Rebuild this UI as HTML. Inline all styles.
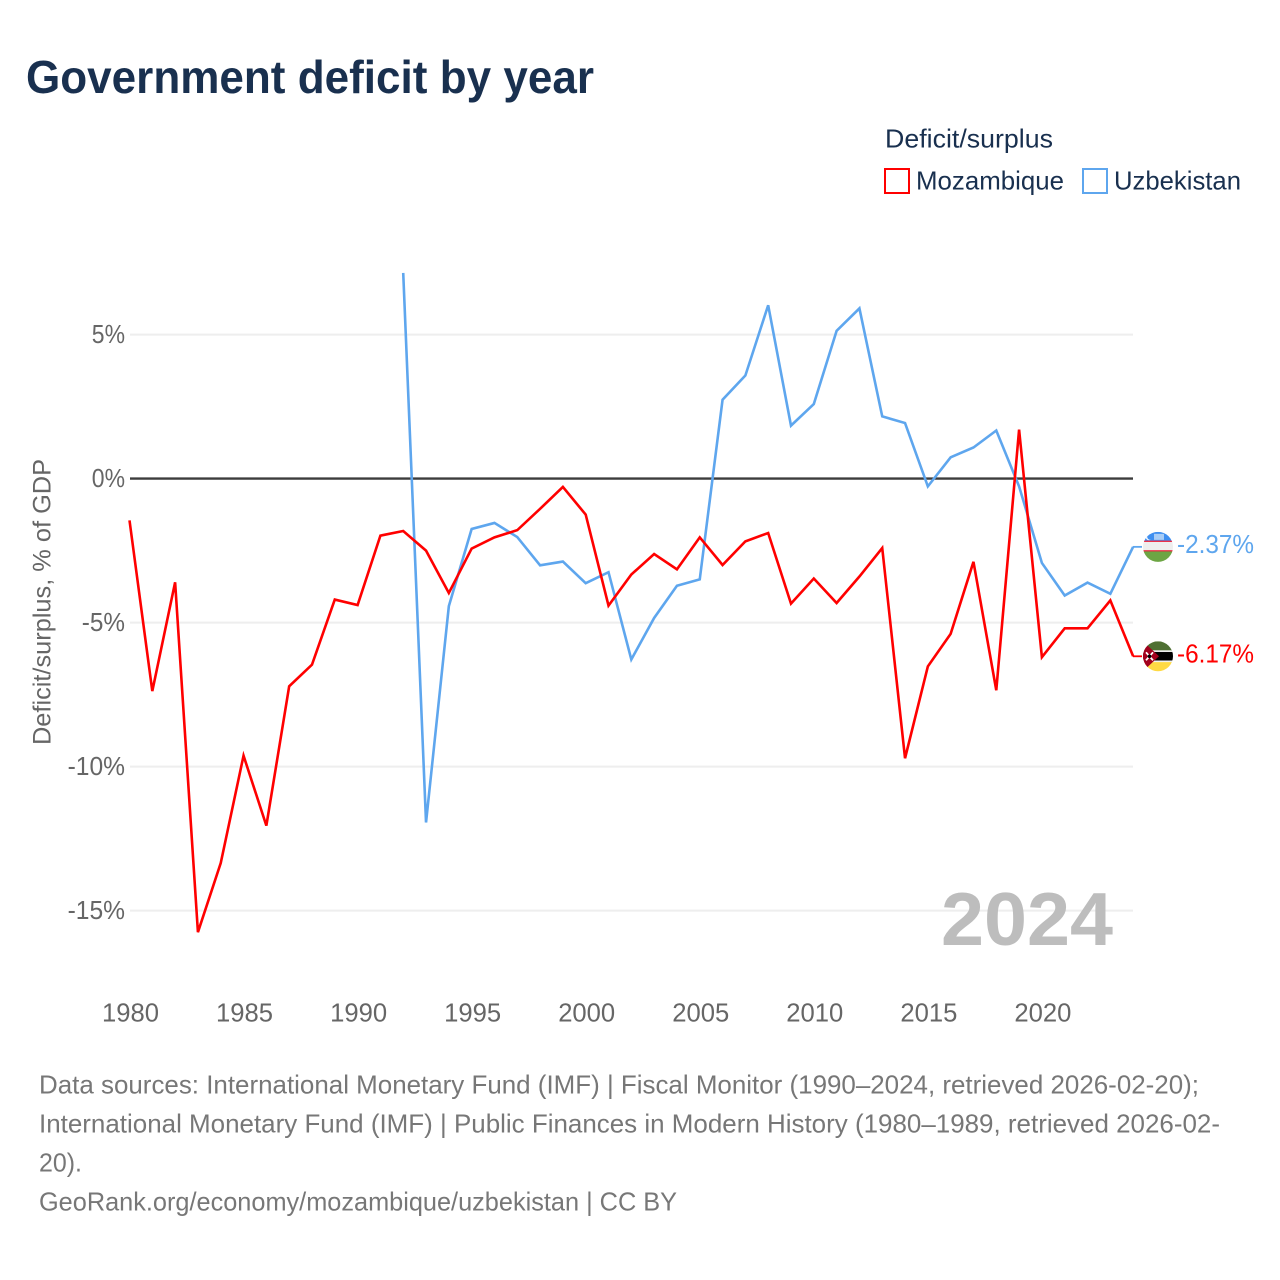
<!DOCTYPE html>
<html lang="en">
<head>
<meta charset="utf-8">
<title>Government deficit by year</title>
<style>
html,body{margin:0;padding:0;background:#fff;}
svg{display:block;font-family:"Liberation Sans",sans-serif;}
</style>
</head>
<body>
<svg id="chart" xmlns="http://www.w3.org/2000/svg" width="1280" height="1280" viewBox="0 0 1280 1280">
  <defs>
    <clipPath id="flag-clip"><circle cx="0" cy="0" r="15"/></clipPath>
  </defs>
  <rect x="0" y="0" width="1280" height="1280" fill="#fff"/>
  <text x="26" y="93" font-size="46" font-weight="700" fill="#19304f" textLength="568" lengthAdjust="spacingAndGlyphs">Government deficit by year</text>

  <g>
    <text x="885" y="147.5" font-size="26" fill="#19304f" textLength="168" lengthAdjust="spacingAndGlyphs">Deficit/surplus</text>
    <rect x="885" y="169" width="24" height="24" fill="#fff" stroke="#ff0000" stroke-width="2"/>
    <text x="916" y="189.5" font-size="26" fill="#19304f" textLength="148" lengthAdjust="spacingAndGlyphs">Mozambique</text>
    <rect x="1083" y="169" width="24" height="24" fill="#fff" stroke="#5ea6ee" stroke-width="2"/>
    <text x="1114" y="189.5" font-size="26" fill="#19304f" textLength="127" lengthAdjust="spacingAndGlyphs">Uzbekistan</text>
  </g>

  <text transform="translate(50.5,602) rotate(-90)" text-anchor="middle" font-size="25" fill="#666" textLength="286" lengthAdjust="spacingAndGlyphs">Deficit/surplus, % of GDP</text>

  <g id="grid"></g>
  <g id="y-ticks"></g>
  <g id="x-ticks"></g>

  <text x="941" y="945" font-size="75" font-weight="700" fill="#bdbdbd" textLength="172" lengthAdjust="spacingAndGlyphs">2024</text>

  <g id="series"></g>
  <g id="end-labels"></g>

  <g font-size="26" fill="#777">
    <text x="39" y="1093.5" textLength="1160" lengthAdjust="spacingAndGlyphs">Data sources: International Monetary Fund (IMF) | Fiscal Monitor (1990–2024, retrieved 2026-02-20);</text>
    <text x="39" y="1132.5" textLength="1181" lengthAdjust="spacingAndGlyphs">International Monetary Fund (IMF) | Public Finances in Modern History (1980–1989, retrieved 2026-02-</text>
    <text x="39" y="1171.5" textLength="43" lengthAdjust="spacingAndGlyphs">20).</text>
    <text x="39" y="1210.5" textLength="638" lengthAdjust="spacingAndGlyphs">GeoRank.org/economy/mozambique/uzbekistan | CC BY</text>
  </g>
</svg>
<script>
const mozambiqueYears = [1980,1981,1982,1983,1984,1985,1986,1987,1988,1989,1990,1991,1992,1993,1994,1995,1996,1997,1998,1999,2000,2001,2002,2003,2004,2005,2006,2007,2008,2009,2010,2011,2012,2013,2014,2015,2016,2017,2018,2019,2020,2021,2022,2023,2024];
const mozambiqueValues = [-1.45,-7.38,-3.6,-15.75,-13.35,-9.62,-12.05,-7.21,-6.46,-4.2,-4.39,-1.98,-1.82,-2.5,-3.97,-2.43,-2.04,-1.79,-1.05,-0.29,-1.25,-4.41,-3.33,-2.62,-3.15,-2.04,-3.0,-2.18,-1.89,-4.34,-3.47,-4.32,-3.4,-2.41,-9.71,-6.52,-5.39,-2.89,-7.35,1.7,-6.2,-5.2,-5.2,-4.23,-6.17];
const uzbekistanYears = [1992,1993,1994,1995,1996,1997,1998,1999,2000,2001,2002,2003,2004,2005,2006,2007,2008,2009,2010,2011,2012,2013,2014,2015,2016,2017,2018,2019,2020,2021,2022,2023,2024];
const uzbekistanValues = [7.14,-11.94,-4.43,-1.75,-1.54,-2.03,-3.01,-2.88,-3.63,-3.25,-6.28,-4.84,-3.72,-3.5,2.74,3.58,6.02,1.84,2.59,5.13,5.91,2.16,1.93,-0.27,0.74,1.08,1.67,-0.27,-2.93,-4.06,-3.61,-4.0,-2.37];
const yTickValues = [5,0,-5,-10,-15];
const yTickLabels = ['5%','0%','-5%','-10%','-15%'];
const xTickYears = [1980,1985,1990,1995,2000,2005,2010,2015,2020];

const NS = 'http://www.w3.org/2000/svg';
function xScale(year){ return 129.5 + (year - 1980) * 22.81; }
function yScale(v){ return 478.6 - v * 28.8; }
function make(tag, attrs, parent){
  const el = document.createElementNS(NS, tag);
  for (const k in attrs) el.setAttribute(k, attrs[k]);
  parent.appendChild(el);
  return el;
}
function labelWidth(s){
  let w = 0;
  for (const c of s) w += c === '%' ? 19 : c === '-' ? 10 : c === '.' ? 6.5 : 14.2;
  return w;
}

const grid = document.getElementById('grid');
const yTicks = document.getElementById('y-ticks');
yTickValues.forEach(function(v, i){
  const line = make('line', {x1:130, x2:1133, y1:yScale(v), y2:yScale(v), stroke: v === 0 ? '#3c3c3c' : '#eeeeee', 'stroke-width': v === 0 ? 2.4 : 2}, grid);
  
  
  const t = make('text', {x:125, y:yScale(v)+8.5, 'text-anchor':'end', 'font-size':26, fill:'#666', textLength:labelWidth(yTickLabels[i]), lengthAdjust:'spacingAndGlyphs'}, yTicks);
  t.textContent = yTickLabels[i];
  
  
});

const xTicks = document.getElementById('x-ticks');
xTickYears.forEach(function(y){
  const t = make('text', {x:xScale(y)+1, y:1021.5, 'text-anchor':'middle', 'font-size':26, fill:'#666', textLength:57, lengthAdjust:'spacingAndGlyphs'}, xTicks);
  t.textContent = String(y);
  
  
});

function pathFor(years, values){
  return years.map(function(y, i){
    return (i ? 'L' : 'M') + xScale(y).toFixed(2) + ' ' + yScale(values[i]).toFixed(2);
  }).join(' ');
}
const series = document.getElementById('series');
const uzbekLine = make('path', {d:pathFor(uzbekistanYears, uzbekistanValues), fill:'none', stroke:'#5ea6ee', 'stroke-width':2.6, 'stroke-linejoin':'miter'}, series);


const mozLine = make('path', {d:pathFor(mozambiqueYears, mozambiqueValues), fill:'none', stroke:'#ff0000', 'stroke-width':2.6, 'stroke-linejoin':'miter'}, series);



const endLabels = document.getElementById('end-labels');
function endLabel(value, color){
  const y = yScale(value);
  const lead = make('line', {x1:1133, x2:1142, y1:y, y2:y, stroke:color, 'stroke-width':1.8}, endLabels);
  
  
  const s = value.toFixed(2) + '%';
  const t = make('text', {x:1177, y:y+6, 'font-size':26, fill:color, textLength:77, lengthAdjust:'spacingAndGlyphs'}, endLabels);
  t.textContent = s;
  
  
  const g = make('g', {transform:'translate(1158 ' + y + ')', 'clip-path':'url(#flag-clip)'}, endLabels);
  
  
  return g;
}

const uz = endLabel(uzbekistanValues[uzbekistanValues.length - 1], '#5ea6ee');
make('rect', {x:-15, y:-15, width:30, height:9, fill:'#3f8ff0'}, uz);
make('rect', {x:-15, y:-5, width:30, height:8.4, fill:'#eeeeee'}, uz);
make('rect', {x:-15, y:-6.2, width:30, height:1.2, fill:'#e8112d'}, uz);
make('rect', {x:-15, y:3.4, width:30, height:1.2, fill:'#e8112d'}, uz);
make('rect', {x:-15, y:4.6, width:30, height:11, fill:'#6da544'}, uz);
make('circle', {cx:-9, cy:-10, r:3.4, fill:'#fff'}, uz);
make('circle', {cx:-7.8, cy:-10, r:3, fill:'#3f8ff0'}, uz);
make('rect', {x:-4, y:-13, width:10, height:6, fill:'#a9cdf6'}, uz);

const mz = endLabel(mozambiqueValues[mozambiqueValues.length - 1], '#ff0000');
make('rect', {x:-15, y:-15, width:30, height:10, fill:'#4f7033'}, mz);
make('rect', {x:-15, y:-4.4, width:30, height:8.6, fill:'#000'}, mz);
make('rect', {x:-15, y:-6, width:30, height:1.6, fill:'#f0f0f0'}, mz);
make('rect', {x:-15, y:4.2, width:30, height:1.6, fill:'#f0f0f0'}, mz);
make('rect', {x:-15, y:5.8, width:30, height:10, fill:'#ffda44'}, mz);
make('path', {d:'M-15 -15 L1 0 L-15 15 Z', fill:'#a2001d'}, mz);
make('path', {d:'M-12 -4 L-5 4 M-5 -4 L-12 4', stroke:'#fff', 'stroke-width':1.8}, mz);
make('circle', {cx:-8.5, cy:0, r:1.8, fill:'#000'}, mz);
</script>
</body>
</html>
